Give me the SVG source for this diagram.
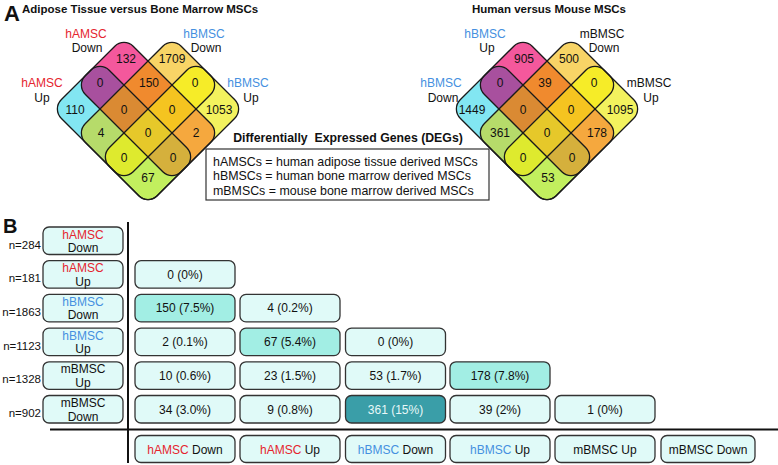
<svg xmlns="http://www.w3.org/2000/svg" xmlns:xlink="http://www.w3.org/1999/xlink" width="778" height="465" viewBox="0 0 778 465">
<style>
text{font-family:"Liberation Sans",Arial,sans-serif;fill:#111}
.ttl{font-weight:bold;font-size:11.5px}
.big{font-weight:bold}
.vn{font-size:12px;text-anchor:middle}
.vl{font-size:12px;text-anchor:middle}
.red{fill:#E5252E}
.blue{fill:#4590E0}
.leg{font-size:12.4px}
.box{fill:#E0FAF8;stroke:#333;stroke-width:1.3}
.hi{fill:#A2EEE4}
.dk{fill:#3A9EA8}
.ct{font-size:12px;text-anchor:middle}
.nl{font-size:11.5px;text-anchor:end}
.ol{fill:none;stroke:#1a1a1a;stroke-width:1.3}
</style>
<defs>
<clipPath id="cA"><rect x="-16.97" y="16.97" width="135.76" height="67.88" rx="13"/></clipPath>
<clipPath id="cB"><rect x="16.97" y="-16.97" width="67.88" height="135.76" rx="13"/></clipPath>
<clipPath id="cC"><rect x="-16.97" y="50.91" width="135.76" height="67.88" rx="13"/></clipPath>
<rect id="rA" x="-16.97" y="16.97" width="135.76" height="67.88" rx="13"/>
<rect id="rB" x="16.97" y="-16.97" width="67.88" height="135.76" rx="13"/>
<rect id="rC" x="-16.97" y="50.91" width="135.76" height="67.88" rx="13"/>
<rect id="rD" x="50.91" y="-16.97" width="67.88" height="135.76" rx="13"/>
<g id="vshapes">
<use xlink:href="#rA" fill="#F4589C"/>
<use xlink:href="#rB" fill="#F8D466"/>
<use xlink:href="#rC" fill="#82E6F2"/>
<use xlink:href="#rD" fill="#F3F25E"/>
<g clip-path="url(#cA)">
<use xlink:href="#rB" fill="#F08A2E"/>
<use xlink:href="#rC" fill="#A8509E"/>
<use xlink:href="#rD" fill="#F5A83E"/>
</g>
<g clip-path="url(#cB)">
<use xlink:href="#rC" fill="#B6DB6A"/>
<use xlink:href="#rD" fill="#F6EC28"/>
</g>
<g clip-path="url(#cC)">
<use xlink:href="#rD" fill="#C2EF5E"/>
</g>
<g clip-path="url(#cA)"><g clip-path="url(#cB)"><use xlink:href="#rC" fill="#DA8A33"/><use xlink:href="#rD" fill="#F5C420"/></g></g>
<g clip-path="url(#cA)"><g clip-path="url(#cC)"><use xlink:href="#rD" fill="#D5B03C"/></g></g>
<g clip-path="url(#cB)"><g clip-path="url(#cC)"><use xlink:href="#rD" fill="#DEEA2E"/></g></g>
<g clip-path="url(#cA)"><g clip-path="url(#cB)"><g clip-path="url(#cC)"><use xlink:href="#rD" fill="#E6C82A"/></g></g></g>
<use xlink:href="#rA" class="ol"/>
<use xlink:href="#rB" class="ol"/>
<use xlink:href="#rC" class="ol"/>
<use xlink:href="#rD" class="ol"/>
</g>
</defs>

<g id="panelA">
<text class="big" x="4" y="21" font-size="22">A</text>
<text class="ttl" x="22" y="12.5">Adipose Tissue versus Bone Marrow MSCs</text>
<text class="ttl" x="472" y="12.5">Human versus Mouse MSCs</text>

<g id="venn-left">
<use xlink:href="#vshapes" transform="translate(148,37) rotate(45)"/>
<g class="vn">
<text class="vn" x="126" y="63">132</text>
<text class="vn" x="172" y="63">1709</text>
<text class="vn" x="100" y="87">0</text>
<text class="vn" x="149" y="87">150</text>
<text class="vn" x="195" y="87">0</text>
<text class="vn" x="75" y="114">110</text>
<text class="vn" x="124" y="114">0</text>
<text class="vn" x="172" y="114">0</text>
<text class="vn" x="219" y="114">1053</text>
<text class="vn" x="101" y="137">4</text>
<text class="vn" x="148" y="137">0</text>
<text class="vn" x="196" y="137">2</text>
<text class="vn" x="124" y="162">0</text>
<text class="vn" x="173" y="162">0</text>
<text class="vn" x="148" y="182">67</text>
</g>
<text class="vl red" x="86" y="37.5">hAMSC</text>
<text class="vl" x="87" y="52">Down</text>
<text class="vl blue" x="204" y="37.5">hBMSC</text>
<text class="vl" x="206" y="52">Down</text>
<text class="vl red" x="42" y="86.5">hAMSC</text>
<text class="vl" x="42" y="101.5">Up</text>
<text class="vl blue" x="248" y="86.5">hBMSC</text>
<text class="vl" x="251" y="101.5">Up</text>
</g>

<g id="venn-right">
<use xlink:href="#vshapes" transform="translate(547,37) rotate(45)"/>
<text class="vn" x="524" y="63">905</text>
<text class="vn" x="569" y="63">500</text>
<text class="vn" x="500" y="87">0</text>
<text class="vn" x="545" y="87">39</text>
<text class="vn" x="594" y="87">0</text>
<text class="vn" x="472" y="114">1449</text>
<text class="vn" x="523" y="114">0</text>
<text class="vn" x="571" y="114">0</text>
<text class="vn" x="620" y="114">1095</text>
<text class="vn" x="500" y="137">361</text>
<text class="vn" x="547" y="137">0</text>
<text class="vn" x="597" y="137">178</text>
<text class="vn" x="523" y="162">0</text>
<text class="vn" x="572" y="162">0</text>
<text class="vn" x="548" y="182">53</text>
<text class="vl blue" x="485" y="37.5">hBMSC</text>
<text class="vl" x="487" y="52">Up</text>
<text class="vl" x="602" y="37.5">mBMSC</text>
<text class="vl" x="604" y="52">Down</text>
<text class="vl blue" x="441" y="86.5">hBMSC</text>
<text class="vl" x="443" y="101.5">Down</text>
<text class="vl" x="649" y="86.5">mBMSC</text>
<text class="vl" x="651" y="101.5">Up</text>
</g>

<g id="legend">
<text class="big" x="348" y="141.5" font-size="12.3" text-anchor="middle" xml:space="preserve">Differentially  Expressed Genes (DEGs)</text>
<rect x="206" y="149" width="283" height="51" fill="#fff" stroke="#333" stroke-width="1.2"/>
<text class="leg" x="213" y="165.5">hAMSCs = human adipose tissue derived MSCs</text>
<text class="leg" x="213" y="180">hBMSCs = human bone marrow derived MSCs</text>
<text class="leg" x="213" y="194.5">mBMSCs = mouse bone marrow derived MSCs</text>
</g>
</g>

<g id="panelB">
<text class="big" x="3" y="233" font-size="20">B</text>

<g id="connectors">
<line x1="128" y1="222" x2="128" y2="463" stroke="#111" stroke-width="2"/>
<line x1="50" y1="429.5" x2="778" y2="429.5" stroke="#111" stroke-width="2"/>
</g>

<g id="row1">
<text class="nl" x="41" y="248.5">n=284</text>
<rect class="box" x="43" y="227" width="80" height="27.5" rx="6"/>
<text class="ct red" x="83" y="238.5">hAMSC</text>
<text class="ct" x="83" y="252">Down</text>
</g>
<g id="row2">
<text class="nl" x="41" y="282.2">n=181</text>
<rect class="box" x="43" y="260.7" width="80" height="27.5" rx="6"/>
<text class="ct red" x="83" y="272.2">hAMSC</text>
<text class="ct" x="83" y="285.7">Up</text>
</g>
<g id="row3">
<text class="nl" x="41" y="315.9">n=1863</text>
<rect class="box" x="43" y="294.4" width="80" height="27.5" rx="6"/>
<text class="ct blue" x="83" y="305.9">hBMSC</text>
<text class="ct" x="83" y="319.4">Down</text>
</g>
<g id="row4">
<text class="nl" x="41" y="349.6">n=1123</text>
<rect class="box" x="43" y="328.1" width="80" height="27.5" rx="6"/>
<text class="ct blue" x="83" y="339.6">hBMSC</text>
<text class="ct" x="83" y="353.1">Up</text>
</g>
<g id="row5">
<text class="nl" x="41" y="383.3">n=1328</text>
<rect class="box" x="43" y="361.8" width="80" height="27.5" rx="6"/>
<text class="ct" x="83" y="373.3">mBMSC</text>
<text class="ct" x="83" y="386.8">Up</text>
</g>
<g id="row6">
<text class="nl" x="41" y="417">n=902</text>
<rect class="box" x="43" y="395.5" width="80" height="27.5" rx="6"/>
<text class="ct" x="83" y="407">mBMSC</text>
<text class="ct" x="83" y="420.5">Down</text>
</g>

<g id="cells">
<g id="c21"><rect class="box" x="135" y="260.7" width="100" height="27.5" rx="6"/><text class="ct" x="185" y="278.7">0 (0%)</text></g>
<g id="c31"><rect class="box hi" x="135" y="294.4" width="100" height="27.5" rx="6"/><text class="ct" x="185" y="312.4">150 (7.5%)</text></g>
<g id="c32"><rect class="box" x="240" y="294.4" width="100" height="27.5" rx="6"/><text class="ct" x="290" y="312.4">4 (0.2%)</text></g>
<g id="c41"><rect class="box" x="135" y="328.1" width="100" height="27.5" rx="6"/><text class="ct" x="185" y="346.1">2 (0.1%)</text></g>
<g id="c42"><rect class="box hi" x="240" y="328.1" width="100" height="27.5" rx="6"/><text class="ct" x="290" y="346.1">67 (5.4%)</text></g>
<g id="c43"><rect class="box" x="345.5" y="328.1" width="100" height="27.5" rx="6"/><text class="ct" x="395.5" y="346.1">0 (0%)</text></g>
<g id="c51"><rect class="box" x="135" y="361.8" width="100" height="27.5" rx="6"/><text class="ct" x="185" y="379.8">10 (0.6%)</text></g>
<g id="c52"><rect class="box" x="240" y="361.8" width="100" height="27.5" rx="6"/><text class="ct" x="290" y="379.8">23 (1.5%)</text></g>
<g id="c53"><rect class="box" x="345.5" y="361.8" width="100" height="27.5" rx="6"/><text class="ct" x="395.5" y="379.8">53 (1.7%)</text></g>
<g id="c54"><rect class="box hi" x="450" y="361.8" width="100" height="27.5" rx="6"/><text class="ct" x="500" y="379.8">178 (7.8%)</text></g>
<g id="c61"><rect class="box" x="135" y="395.5" width="100" height="27.5" rx="6"/><text class="ct" x="185" y="413.5">34 (3.0%)</text></g>
<g id="c62"><rect class="box" x="240" y="395.5" width="100" height="27.5" rx="6"/><text class="ct" x="290" y="413.5">9 (0.8%)</text></g>
<g id="c63"><rect class="box dk" x="345.5" y="395.5" width="100" height="27.5" rx="6"/><text class="ct" x="395.5" y="413.5" style="fill:#E8F8F8">361 (15%)</text></g>
<g id="c64"><rect class="box" x="450" y="395.5" width="100" height="27.5" rx="6"/><text class="ct" x="500" y="413.5">39 (2%)</text></g>
<g id="c65"><rect class="box" x="555" y="395.5" width="100" height="27.5" rx="6"/><text class="ct" x="605" y="413.5">1 (0%)</text></g>
</g>

<g id="colheads">
<g id="h1"><rect class="box" x="135" y="435.5" width="100" height="27" rx="6"/><text class="ct" x="185" y="453.5"><tspan class="red">hAMSC</tspan> Down</text></g>
<g id="h2"><rect class="box" x="240" y="435.5" width="100" height="27" rx="6"/><text class="ct" x="290" y="453.5"><tspan class="red">hAMSC</tspan> Up</text></g>
<g id="h3"><rect class="box" x="345.5" y="435.5" width="100" height="27" rx="6"/><text class="ct" x="395.5" y="453.5"><tspan class="blue">hBMSC</tspan> Down</text></g>
<g id="h4"><rect class="box" x="450" y="435.5" width="100" height="27" rx="6"/><text class="ct" x="500" y="453.5"><tspan class="blue">hBMSC</tspan> Up</text></g>
<g id="h5"><rect class="box" x="555" y="435.5" width="100" height="27" rx="6"/><text class="ct" x="605" y="453.5">mBMSC Up</text></g>
<g id="h6"><rect class="box" x="661" y="435.5" width="94" height="27" rx="6"/><text class="ct" x="708" y="453.5">mBMSC Down</text></g>
</g>
</g>
</svg>
